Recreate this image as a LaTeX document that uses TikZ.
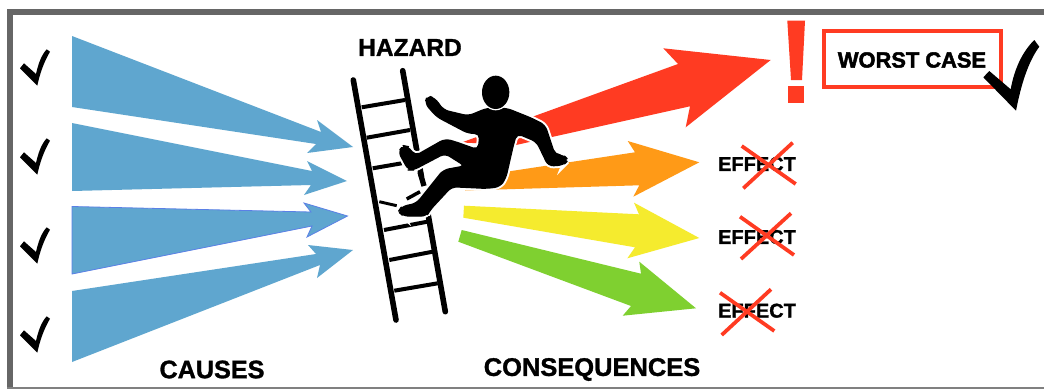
\documentclass[tikz,border=0pt]{standalone}
\usepackage{fontspec}
\setmainfont{Liberation Sans}
\newfontfamily\heavy[FakeBold=2.2,UprightFont=* Bold]{Liberation Sans}
\newfontfamily\semi[FakeBold=1.2,UprightFont=* Bold]{Liberation Sans}
\definecolor{cred}{HTML}{FF3B22}
\definecolor{corange}{HTML}{FF9A17}
\definecolor{cyellow}{HTML}{F5EB2E}
\definecolor{cgreen}{HTML}{7FD030}
\definecolor{cblue}{HTML}{5FA6CF}
\definecolor{cedge}{HTML}{5B80E6}
\definecolor{cframe}{HTML}{666666}
\tikzset{
  caption/.style={font=\semi\fontsize{18.9}{20}\selectfont,text=black,inner sep=0pt},
  effect/.style={font=\semi\fontsize{15}{16}\selectfont,text=black,inner sep=0pt},
  crossline/.style={draw=cred,line width=2.8pt},
  rail/.style={draw=black,line width=4.2pt,line cap=round},
  rung/.style={draw=black,line width=3pt},
  pics/tick/.style={code={
    \fill[black] (20,68.3) -- (24,63.3) -- (36,74) .. controls (38.5,63) and (41.5,55) .. (46.7,49.3)
      -- (50,51.7) .. controls (44,62) and (40,73) .. (37.3,85.7) -- cycle;}},
}
\begin{document}
\begin{tikzpicture}[x=0.75pt,y=-0.75pt]
\useasboundingbox (0,0) rectangle (1044,389);
\fill[white] (0,0) rectangle (1044,389);
% frame
\fill[cframe] (7,9) rectangle (1044,14.7);
\fill[cframe] (7,9) rectangle (13,389);
\fill[black!50] (7,387.3) rectangle (1044,389);
% cause arrows
\fill[cblue] (72,36) -- (321,132) -- (317,120) -- (353,147) -- (307,153) -- (316,144) -- (72,107) -- cycle;
\fill[cblue] (72,123) -- (312,171) -- (307,161) -- (347,181) -- (304,195) -- (311,185) -- (72,191) -- cycle;
\filldraw[fill=cblue,draw=cedge,line width=0.6pt] (72,206.5) -- (311,212) -- (304,203) -- (347.5,216) -- (307,237) -- (312,226) -- (72,274) -- cycle;
\fill[cblue] (72,291) -- (316,254) -- (308,245) -- (353,250) -- (317,278) -- (320,265) -- (72,362) -- cycle;
% ticks
\pic at (0,0) {tick};
\pic at (0,89) {tick};
\pic at (0,178) {tick};
\pic at (0,267) {tick};
% consequence arrows
\fill[cred] (461.5,142.5) -- (678,64) -- (663.3,48.3) -- (770.7,60) -- (685.7,127.3) -- (690,106.3) -- (516,145) -- cycle;
\fill[corange] (465,190.5) -- (465,178) -- (635,152.3) -- (627.7,141) -- (699.3,162.3) -- (633.3,196.7) -- (639.3,185.3) -- cycle;
\fill[cyellow] (464,205.7) -- (639,214.3) -- (634,202.7) -- (699.3,238) -- (627.3,258.3) -- (635,247.3) -- (463.3,217.7) -- cycle;
\fill[cgreen] (461.7,230) -- (641,273.7) -- (639.3,261.7) -- (696,308.3) -- (622.7,315.7) -- (631,306) -- (458.3,241.7) -- cycle;
% ladder
\draw[rail] (353.3,80) -- (396,320);
\draw[rail] (402.7,70.7) -- (445.3,311.7);
\draw[rung] (361.7,107.3) -- (405,100);
\draw[rung] (366.7,137.7) -- (410,130);
\draw[rung] (372.7,168.3) -- (401.7,163.3);
\draw[rung] (384,230) -- (427.3,221.7);
\draw[rung] (389.3,260) -- (432.7,251.7);
\draw[rung] (394.3,290.7) -- (437.7,283.3);
% man
\begin{scope}[shift={(340,30)},scale=1/3]
\fill[white] (200,440) -- (262,440) -- (262,560) -- (200,520) -- cycle;
\path[fill=black,draw=black,line width=1pt,line join=round,rounded corners=4pt,preaction={draw=white,line width=4pt}]
 (262,197) -- (285,205) -- (310,240) -- (385,258) -- (440,235) -- (500,235) -- (575,265) -- (615,285)
 -- (645,375) -- (670,375) -- (685,390) -- (670,405) -- (625,408) -- (590,335) -- (530,310) -- (520,345)
 -- (497,445) -- (480,470) -- (440,475) -- (335,470) -- (270,540) -- (260,558) -- (190,558) -- (175,545)
 -- (185,530) -- (230,520) -- (310,420) -- (375,408) -- (315,370) -- (220,420) -- (205,420) -- (175,365)
 -- (190,347) -- (205,350) -- (225,378) -- (315,327) -- (345,335) -- (415,360) -- (420,310) -- (385,310)
 -- (290,260) -- (255,220) -- cycle;
\path[fill=black,preaction={draw=white,line width=2pt}] (467,187) ellipse [x radius=41,y radius=50];
\end{scope}
% ladder pieces on top of the halo
\draw[draw=black,line width=2.2pt] (379.3,201.7) -- (396.7,205.7);
\draw[draw=black,line width=2.6pt] (406.7,199) -- (420,191.7);
\draw[draw=black,line width=4pt] (420,172) -- (424,186);
% exclamation mark
\fill[cred] (787.3,20.7) -- (805,20.7) -- (802,80) -- (791,80) -- cycle;
\fill[cred] (788,86) rectangle (804,102.7);
% worst case box
\draw[draw=cred,line width=3.2pt] (824.3,31) rectangle (1000.7,87.3);
\node[inner sep=0pt,font=\heavy\fontsize{16.4}{16}\selectfont] (worst) at (912,60) {WORST CASE};
\fill[black] (983.3,77.3) -- (989.3,71) -- (1010.7,89.3) .. controls (1014,70) and (1022,52) .. (1034.3,40)
  -- (1039.3,46.7) .. controls (1028,62) and (1021,85) .. (1016,110.7) -- cycle;
% effects
\node[effect] (e1) at (757,164) {EFFECT};
\node[effect] (e2) at (757,237) {EFFECT};
\node[effect] (e3) at (757,310.7) {EFFECT};
\draw[crossline] (741.7,146) -- (795.7,184);
\draw[crossline] (743.3,188.3) -- (792.7,142.7);
\draw[crossline] (740,216.7) -- (794,255);
\draw[crossline] (741,259) -- (791,213.3);
\draw[crossline] (720,292.7) -- (774.3,331);
\draw[crossline] (721.7,335) -- (771,289.3);
% captions
\node[caption,font=\semi\fontsize{18.4}{20}\selectfont] (hazard) at (410,47.5) {HAZARD};
\node[caption] (causes) at (212,369.5) {CAUSES};
\node[caption,font=\semi\fontsize{19.1}{20}\selectfont] (cons) at (592,369.5) {CONSEQUENCES};
\end{tikzpicture}
\end{document}
